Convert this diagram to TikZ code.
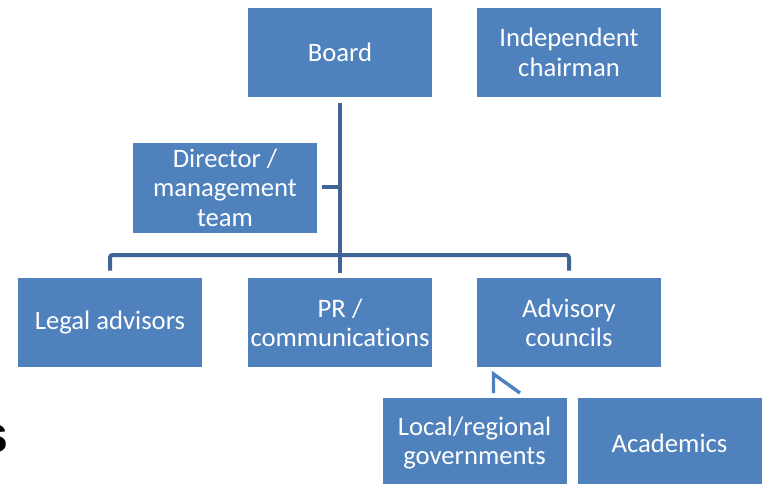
\documentclass[tikz,border=0pt]{standalone}
\usepackage{fontspec}
\setmainfont{Carlito}[Ligatures=NoCommon]
\newfontfamily\arialfont{Liberation Sans}
\definecolor{boxblue}{HTML}{4F81BD}
\definecolor{linkblue}{HTML}{3E6596}
\begin{document}
\begin{tikzpicture}[x=0.75pt,y=-0.75pt,
  orgbox/.style={fill=boxblue,draw=none,text=white,align=center,font=\fontsize{20}{22}\selectfont,inner sep=0pt},
  link/.style={draw=linkblue,line width=3pt,rounded corners=2pt}]
\useasboundingbox (0,0) rectangle (763,483);
\path[fill=white] (0,0) rectangle (763,483);
\begin{scope}
\clip (0,0) rectangle (763,483);
\node[orgbox,minimum width=184*0.75pt,minimum height=89*0.75pt] (board) at (340,52.5) {Board};
\node[orgbox,minimum width=184*0.75pt,minimum height=89*0.75pt] (chair) at (569,52.5) {Independent\\chairman};
\node[orgbox,minimum width=184*0.75pt,minimum height=90*0.75pt] (dir) at (225,187.5) {Director /\\management\\team};
\node[orgbox,minimum width=184*0.75pt,minimum height=89*0.75pt] (legal) at (110,322.5) {Legal advisors};
\node[orgbox,minimum width=184*0.75pt,minimum height=89*0.75pt] (pr) at (340,322.5) {PR /\\communications};
\node[orgbox,minimum width=184*0.75pt,minimum height=89*0.75pt] (adv) at (569,322.5) {Advisory\\councils};
\node[orgbox,minimum width=184*0.75pt,minimum height=90*0.75pt] (local) at (474.5,443) {Local/regional\\governments};
\node[orgbox,minimum width=184*0.75pt,minimum height=90*0.75pt] (acad) at (669.5,443) {Academics};
\node[anchor=base east,font=\fontsize{39}{40}\selectfont\arialfont\bfseries,inner sep=0pt] (s) at (9,452) {s};
\coordinate (top) at ([yshift=-5.5*0.75pt]board.south);
\coordinate (bar) at (340,255);
\draw[link] (top) -- ([yshift=5*0.75pt]pr.north);
\draw[link] ([xshift=5*0.75pt]dir.east |- 0,187) -- (340,187);
\draw[link] ([yshift=7*0.75pt]legal.north) -- (legal.north |- bar) -- (adv.north |- bar) -- ([yshift=7*0.75pt]adv.north);
\coordinate (stubA) at (493.5,393);
\coordinate (stubB) at (493.5,374);
\coordinate (stubC) at (520,393);
\draw[draw=boxblue,line width=2.6pt] (stubA) -- (stubB) -- (stubC);
\end{scope}
\end{tikzpicture}
\end{document}
